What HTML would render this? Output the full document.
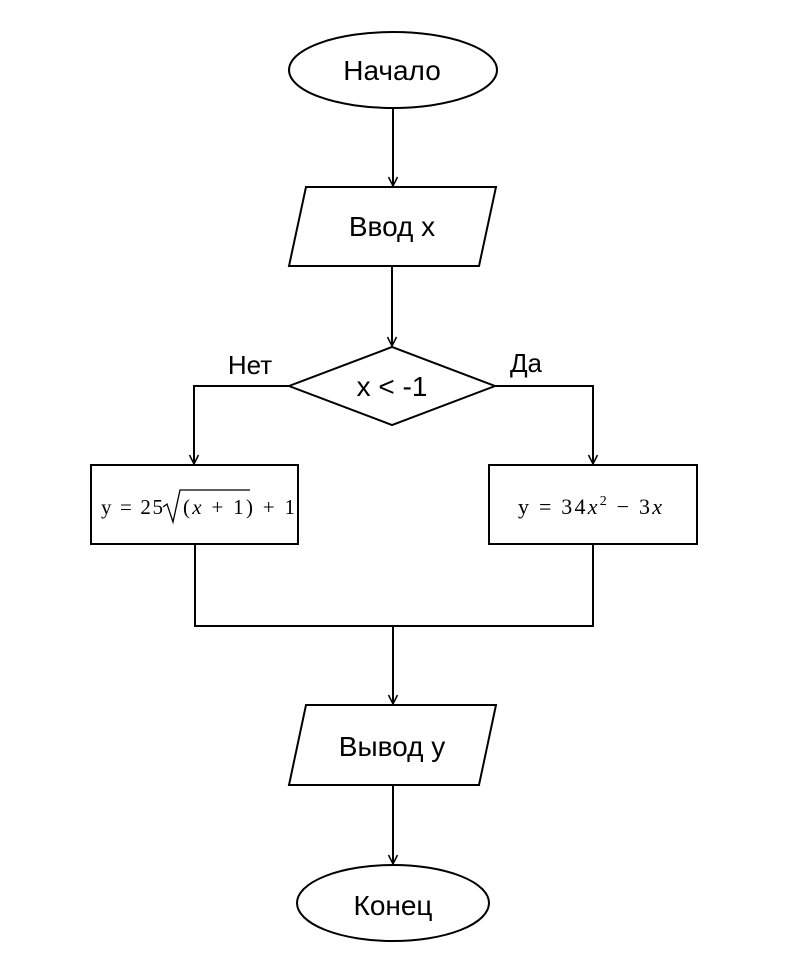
<!DOCTYPE html>
<html><head><meta charset="utf-8"><style>
html,body{margin:0;padding:0;background:#fff;}
svg{display:block;}
text{font-family:"Liberation Sans","DejaVu Sans",sans-serif;fill:#000;}
.m{font-family:"Liberation Serif","DejaVu Serif",serif;}
</style></head><body>
<svg width="785" height="969" viewBox="0 0 785 969" xmlns="http://www.w3.org/2000/svg">
<defs><marker id="a" markerWidth="12" markerHeight="12" refX="10" refY="6" orient="auto" markerUnits="userSpaceOnUse"><path d="M1,1.5 L10,6 L1,10.5" fill="none" stroke="#000" stroke-width="1.5"/></marker></defs>
<g fill="none" stroke="#000" stroke-width="2">
<ellipse cx="393" cy="70" rx="104" ry="38"/>
<polygon points="306,187 496,187 479,266 289,266"/>
<polygon points="289,386 392,347 495,386 392,425"/>
<rect x="91" y="465" width="207" height="79"/>
<rect x="489" y="465" width="208" height="79"/>
<polygon points="306,705 496,705 479,785 289,785"/>
<ellipse cx="393" cy="903" rx="96" ry="38"/>
<line x1="393" y1="108" x2="393" y2="186" marker-end="url(#a)"/>
<line x1="392" y1="266" x2="392" y2="346" marker-end="url(#a)"/>
<polyline points="289,386 194,386 194,464" marker-end="url(#a)"/>
<polyline points="495,386 593,386 593,464" marker-end="url(#a)"/>
<polyline points="195,544 195,626 593,626 593,544"/>
<line x1="393" y1="626" x2="393" y2="704" marker-end="url(#a)"/>
<line x1="393" y1="785" x2="393" y2="864" marker-end="url(#a)"/>
</g>
<text x="392" y="80" font-size="28" text-anchor="middle">Начало</text>
<text x="392" y="236" font-size="28" text-anchor="middle">Ввод x</text>
<text x="392" y="396" font-size="28" text-anchor="middle">x &lt; -1</text>
<text x="250" y="374" font-size="26" text-anchor="middle">Нет</text>
<text x="526" y="372" font-size="26" text-anchor="middle">Да</text>
<text x="392" y="756" font-size="28" text-anchor="middle">Вывод y</text>
<text x="393" y="915" font-size="28" text-anchor="middle">Конец</text>
<text class="m" x="101" y="514" font-size="21" textLength="62">y = 25</text>
<path d="M163,507 L167,504 L173,522 L180,490 L250,490" fill="none" stroke="#000" stroke-width="1.3"/>
<text class="m" x="183" y="514" font-size="21" textLength="112">(<tspan font-style="italic">x</tspan> + 1) + 1</text>
<text class="m" x="518" y="514" font-size="22" textLength="144">y = 34<tspan font-style="italic">x</tspan><tspan font-size="14" dy="-9">2</tspan><tspan dy="9"> − 3</tspan><tspan font-style="italic">x</tspan></text>
</svg>
</body></html>
